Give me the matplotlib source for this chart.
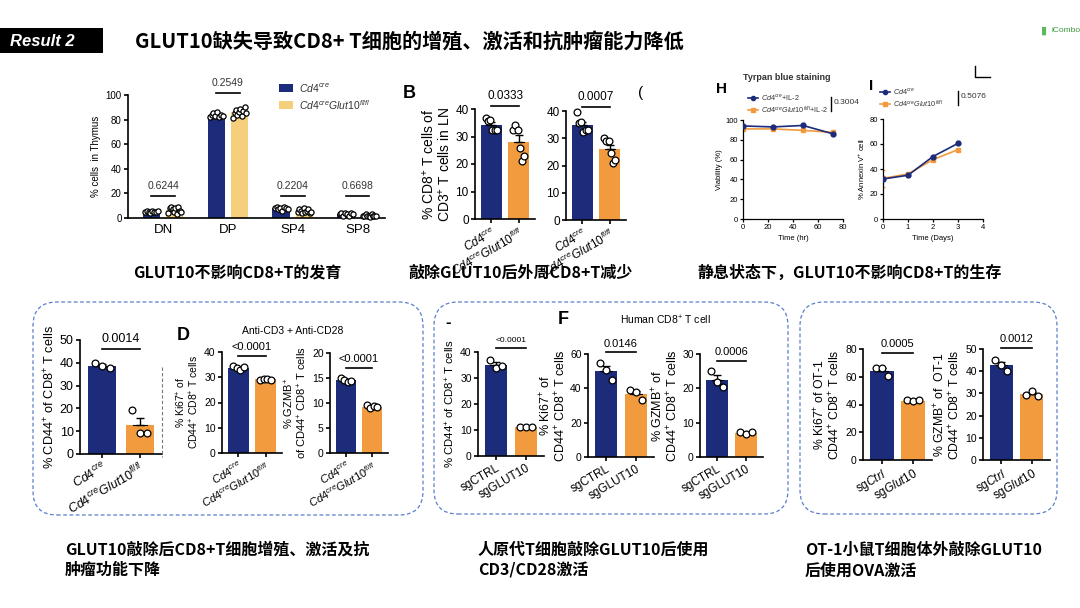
import numpy as np
import matplotlib
matplotlib.use('Agg')
import matplotlib.pyplot as plt
from matplotlib.patches import Rectangle, FancyBboxPatch
from matplotlib.lines import Line2D
from matplotlib.transforms import IdentityTransform

plt.rcParams['font.family'] = ['Liberation Sans', 'Noto Sans CJK SC', 'DejaVu Sans']
plt.rcParams['mathtext.fontset'] = 'custom'
plt.rcParams['mathtext.rm'] = 'Liberation Sans'
plt.rcParams['mathtext.it'] = 'Liberation Sans:italic'
plt.rcParams['mathtext.bf'] = 'Liberation Sans:bold'

# ---------------- data ----------------
thymus_cats = ['DN', 'DP', 'SP4', 'SP8']
thymus_wt = [[5, 6, 5, 4, 6, 5, 5, 6],
             [82, 84, 85, 83, 86, 82, 84, 83],
             [8, 9, 7, 8, 6, 9, 8, 7],
             [3, 4, 2, 4, 3, 2, 4, 3]]
thymus_ko = [[4, 8, 9, 7, 5, 8, 3, 9, 6, 5],
             [81, 85, 88, 84, 86, 89, 83, 87, 90, 85],
             [5, 7, 6, 4, 8, 5, 6, 7, 4, 5],
             [2, 2, 3, 2, 2, 1, 3, 2, 2, 2]]
thymus_p = ['0.6244', '0.2549', '0.2204', '0.6698']

ln1_wt = [36.7, 35.5, 36, 32.5, 32.5, 32.5]
ln1_ko = [32.5, 34.3, 32.5, 25.8, 21, 22.8]
ln2_wt = [39.5, 35.5, 36, 32.4, 33, 33]
ln2_ko = [30, 29, 29, 24.5, 21, 22]
ln_p = ['0.0333', '0.0007']

h_time = [0, 24, 48, 72]
h_wt = [94, 93, 94.5, 86]
h_ko = [91, 91, 89.5, 87.5]
h_p = '0.3004'

i_days = [0, 1, 2, 3]
i_wt = [32, 35, 50, 60.5]
i_ko = [32.5, 36, 47.5, 55.5]
i_ko_err = [6.5, 0.8, 1.0, 0.8]
i_p = '0.5076'

cd44_wt = [40, 38.6, 37.6]
cd44_ko = [19.4, 9.2, 9.2]
ki67_wt = [34.5, 33.5, 33, 34]
ki67_ko = [29, 29.2, 29.5, 29]
gzmb_wt = [15, 14.6, 14.2, 14.4]
gzmb_ko = [9.6, 9, 9.4, 9.2]
mouse_p = ['0.0014', '<0.0001', '<0.0001']

hu_cd44_ctrl = [37, 33.8, 34.5]
hu_cd44_ko = [11, 11, 11.2]
hu_ki67_ctrl = [54.5, 50.7, 44.8]
hu_ki67_ko = [39, 38, 33]
hu_gzmb_ctrl = [25, 21.8, 20.5]
hu_gzmb_ko = [7.4, 6.8, 7.2]
human_p = ['<0.0001', '0.0146', '0.0006']

ot_ki67_ctrl = [66.3, 66.3, 60.2]
ot_ki67_ko = [43, 42.5, 43]
ot_gzmb_ctrl = [45.2, 42.9, 40.2]
ot_gzmb_ko = [29.4, 31.3, 28.9]
ot_p = ['0.0005', '0.0012']

mouse_labels = [r'$\mathit{Cd4^{cre}}$', r'$\mathit{Cd4^{cre}Glut10^{fl/fl}}$']
human_labels = ['sgCTRL', 'sgGLUT10']
ot_labels = [r'sg$\mathit{Ctrl}$', r'sg$\mathit{Glut10}$']

# ---------------- style ----------------
W, H = 1080, 608
BLUE = '#1c2b7a'
ORANGE = '#f29b3e'
YELLOW = '#f6cf7c'
BOXC = '#5a7fcc'
CJK = ['Noto Sans CJK SC', 'DejaVu Sans']

fig = plt.figure(figsize=(W / 100, H / 100), dpi=100)


def px_axes(l, t, r, b):
    return fig.add_axes([l / W, 1 - b / H, (r - l) / W, (b - t) / H])


def ftext(x, y, s, **kw):
    fig.text(x / W, 1 - y / H, s, **kw)


def style(ax, fs, lw=1.0, length=3):
    for s in ['top', 'right']:
        ax.spines[s].set_visible(False)
    for s in ['left', 'bottom']:
        ax.spines[s].set_linewidth(lw)
    ax.tick_params(labelsize=fs, width=lw, length=length, pad=1.5)


def dots(ax, x, vals, spread, size):
    off = np.linspace(-spread, spread, len(vals))
    ax.scatter(x + off, vals, s=size, facecolor='white', edgecolor='black',
               linewidth=0.9, zorder=4, clip_on=False)


def bar_with_dots(ax, x, vals, color, width, spread, size, cap=3):
    m = np.mean(vals)
    se = np.std(vals, ddof=1) / np.sqrt(len(vals))
    ax.bar(x, m, width, color=color, zorder=2)
    ax.errorbar(x, m, yerr=[[0], [se]], color='black', capsize=cap, lw=1,
                capthick=1, zorder=3)
    ax.plot([x - width * 0.25, x + width * 0.25], [m, m], color='black', lw=0.8, zorder=3)
    dots(ax, x, vals, spread, size)


def two_bars(ax, wt, ko, ymax, step, p, p_y, labels, fs, pfs, ylabel, ylfs, xfs=None, lpad=2):
    bar_with_dots(ax, 0, wt, BLUE, 0.75, 0.2, 24)
    bar_with_dots(ax, 1, ko, ORANGE, 0.75, 0.2, 24)
    ax.set_xlim(-0.6, 1.6)
    ax.set_ylim(0, ymax)
    ax.set_yticks(np.arange(0, ymax + step / 2, step))
    ax.set_xticks([0, 1])
    ax.set_xticklabels(labels, rotation=30, ha='right', rotation_mode='anchor')
    style(ax, fs, lw=1.2)
    if xfs:
        ax.tick_params(axis='x', labelsize=xfs)
    ax.plot([0, 1], [p_y, p_y], color='black', lw=1.2, clip_on=False)
    ax.text(0.5, p_y + ymax * 0.035, p, ha='center', va='bottom', fontsize=pfs)
    ax.set_ylabel(ylabel, fontsize=ylfs, labelpad=lpad, linespacing=1.0)


# ---------------- header ----------------
fig.add_artist(Rectangle((0, 1 - 53 / H), 103 / W, 25 / H, transform=fig.transFigure,
                         facecolor='black', edgecolor='none'))
ftext(10, 41, 'Result 2', color='white', fontsize=12, fontweight='bold',
      fontstyle='italic', va='center')
ftext(135, 41, 'GLUT10缺失导致CD8+ T细胞的增殖、激活和抗肿瘤能力降低', fontsize=14.5,
      fontweight='bold', family=CJK, va='center')
ftext(1052, 31, 'iCombo', fontsize=6, color='#3a9a3a', va='center')
ftext(1041, 31, '▮', fontsize=8, color='#5cb85c', va='center', family=['DejaVu Sans'])

# ---------------- panel A: thymus ----------------
axA = px_axes(128, 95, 385, 218)
xs = np.arange(len(thymus_cats))
for i in range(len(thymus_cats)):
    bar_with_dots(axA, xs[i] - 0.18, thymus_wt[i], BLUE, 0.27, 0.1, 14, cap=0)
    bar_with_dots(axA, xs[i] + 0.18, thymus_ko[i], YELLOW, 0.27, 0.1, 14, cap=0)
    py = 101.5 if i == 1 else 18
    axA.plot([xs[i] - 0.18, xs[i] + 0.18], [py, py], color='black', lw=1.2, clip_on=False)
    axA.text(xs[i], py + 4, thymus_p[i], ha='center', va='bottom', fontsize=7.5, color='#333333')
axA.set_xlim(-0.54, 3.42)
axA.set_ylim(0, 100)
axA.set_yticks(np.arange(0, 101, 20))
axA.set_xticks(xs)
axA.set_xticklabels(thymus_cats)
style(axA, 7, lw=1.2)
axA.tick_params(axis='x', labelsize=9.5, length=0, pad=4)
axA.set_ylabel('% cells  in Thymus', fontsize=7, labelpad=3)
for k, (c, lab) in enumerate([(BLUE, r'$\mathit{Cd4^{cre}}$'),
                              (YELLOW, r'$\mathit{Cd4^{cre}Glut10^{fl/fl}}$')]):
    y = 88 + 17 * k
    fig.add_artist(Rectangle((279 / W, 1 - (y + 4) / H), 14 / W, 8 / H,
                             transform=fig.transFigure, facecolor=c, edgecolor='none'))
    ftext(299, y, lab, fontsize=7.5, va='center', color='#333333')

# ---------------- panel B: LN ----------------
axB1 = px_axes(475, 109, 535, 219)
two_bars(axB1, ln1_wt, ln1_ko, 40, 10, ln_p[0], 41, mouse_labels, 8.5, 8.5,
         '% CD8$^{+}$ T cells of\nCD3$^{+}$ T cells in LN', 10)
axB2 = px_axes(566, 111, 626, 220)
two_bars(axB2, ln2_wt, ln2_ko, 40, 10, ln_p[1], 41.5, mouse_labels, 8.5, 8.5, '', 10)
ftext(403, 93, 'B', fontsize=13, fontweight='bold', va='center')
ftext(638, 93, '(', fontsize=11, va='center')

# ---------------- panel H ----------------
axH = px_axes(743, 120, 843, 219)
axH.plot(h_time, h_wt, color=BLUE, marker='o', ms=3.5, lw=1.2, zorder=3)
axH.plot(h_time, h_ko, color=ORANGE, marker='s', ms=3.5, lw=1.2, zorder=2)
axH.set_xlim(0, 80)
axH.set_ylim(0, 100)
axH.set_xticks(np.arange(0, 81, 20))
axH.set_yticks(np.arange(0, 101, 20))
style(axH, 5.5, lw=0.9, length=2)
axH.set_xlabel('Time (hr)', fontsize=5.5, labelpad=3)
axH.set_ylabel('Viability (%)', fontsize=5.5, labelpad=2)
ftext(743, 77, 'Tyrpan blue staining', fontsize=6.5, fontweight='bold', va='center', color='#333333')
ftext(716, 89, 'H', fontsize=11, fontweight='bold', va='center')

# ---------------- panel I ----------------
axI = px_axes(883, 119, 983, 219)
axI.errorbar(i_days, i_ko, yerr=i_ko_err, color=ORANGE, marker='s', ms=3.5, lw=1.2,
             capsize=1.5, zorder=2)
axI.plot(i_days, i_wt, color=BLUE, marker='o', ms=3.5, lw=1.2, zorder=3)
axI.set_xlim(0, 4)
axI.set_ylim(0, 80)
axI.set_xticks(np.arange(0, 5, 1))
axI.set_yticks(np.arange(0, 81, 20))
style(axI, 5.5, lw=0.9, length=2)
axI.set_xlabel('Time (Days)', fontsize=5.5, labelpad=3)
axI.set_ylabel('% Annexin V$^{+}$ cell', fontsize=5.5, labelpad=2)
ftext(869, 86, 'I', fontsize=11, fontweight='bold', va='center')

# legends for H and I
for (x0, ytop, labs, ptext, px) in [
        (748, 98, [r'$\mathit{Cd4^{cre}}$+IL-2', r'$\mathit{Cd4^{cre}Glut10^{fl/fl}}$+IL-2'], h_p, 831),
        (880, 92, [r'$\mathit{Cd4^{cre}}$', r'$\mathit{Cd4^{cre}Glut10^{fl/fl}}$'], i_p, 958)]:
    for k, (c, m) in enumerate([(BLUE, 'o'), (ORANGE, 's')]):
        y = ytop + 12 * k
        fig.add_artist(Line2D([x0 / W, (x0 + 5) / W, (x0 + 10) / W], [1 - y / H] * 3,
                              transform=fig.transFigure, color=c, lw=1.2,
                              marker=m, ms=3, markevery=[1]))
        ftext(x0 + 13, y, labs[k], fontsize=5.2, va='center', color='#333333')
    yb = ytop + 6
    fig.add_artist(Line2D([px / W, px / W], [1 - (yb - 7) / H, 1 - (yb + 7) / H],
                          transform=fig.transFigure, color='black', lw=1))
    ftext(px + 3, yb - 1, ptext, fontsize=6, va='center', color='#333333')

# corner mark
fig.add_artist(Line2D([975 / W, 975 / W, 990 / W], [1 - 66 / H, 1 - 77 / H, 1 - 77 / H],
                      transform=fig.transFigure, color='black', lw=1))

# ---------------- captions (top row) ----------------
ftext(133, 273, 'GLUT10不影响CD8+T的发育', fontsize=11.5, fontweight='bold', family=CJK, va='center')
ftext(408, 273, '敲除GLUT10后外周CD8+T减少', fontsize=11.5, fontweight='bold', family=CJK, va='center')
ftext(697, 273, '静息状态下，GLUT10不影响CD8+T的生存', fontsize=11.5, fontweight='bold', family=CJK, va='center')

# ---------------- dashed boxes ----------------
for (l, t, r, b) in [(33, 302, 423, 515), (434, 302, 788, 514), (800, 302, 1057, 514)]:
    fig.add_artist(FancyBboxPatch((l, H - b), r - l, b - t,
                                  boxstyle='round,pad=0,rounding_size=24',
                                  transform=IdentityTransform(), facecolor='none',
                                  edgecolor=BOXC, lw=0.9, linestyle=(0, (3, 2))))
fig.add_artist(Line2D([162 / W, 162 / W], [1 - 367 / H, 1 - 457 / H], transform=fig.transFigure,
                      color='#777777', lw=0.8, linestyle=(0, (3, 2))))

# ---------------- box 1: mouse C / D ----------------
axC = px_axes(80, 340, 162, 454)
two_bars(axC, cd44_wt, cd44_ko, 50, 10, mouse_p[0], 46, mouse_labels, 9, 9,
         '% CD44$^{+}$ of CD8$^{+}$ T cells', 9.2)
axD1 = px_axes(222, 352, 282, 453)
two_bars(axD1, ki67_wt, ki67_ko, 40, 10, mouse_p[1], 38.5, mouse_labels, 7.5, 8,
         '% Ki67$^{+}$ of\nCD44$^{+}$ CD8$^{+}$ T cells', 7.5, xfs=8)
axD2 = px_axes(330, 353, 388, 453)
two_bars(axD2, gzmb_wt, gzmb_ko, 20, 5, mouse_p[2], 17, mouse_labels, 7.5, 8,
         '% GZMB$^{+}$\nof CD44$^{+}$ CD8$^{+}$ T cells', 8, xfs=8)
ftext(177, 335, 'D', fontsize=13, fontweight='bold', va='center')
ftext(293, 331, 'Anti-CD3 + Anti-CD28', fontsize=7.5, ha='center', va='center')

# ---------------- box 2: human E / F ----------------
axE = px_axes(478, 352, 544, 456)
two_bars(axE, hu_cd44_ctrl, hu_cd44_ko, 40, 10, human_p[0], 41.5, human_labels, 7.5, 6,
         '% CD44$^{+}$ of CD8$^{+}$ T cells', 8.2, xfs=8.5)
axF1 = px_axes(588, 354, 654, 457)
two_bars(axF1, hu_ki67_ctrl, hu_ki67_ko, 60, 20, human_p[1], 61, human_labels, 7.5, 8,
         '% Ki67$^{+}$ of\nCD44$^{+}$ CD8$^{+}$ T cells', 9, xfs=8.5, lpad=1)
axF2 = px_axes(700, 354, 763, 457)
two_bars(axF2, hu_gzmb_ctrl, hu_gzmb_ko, 30, 10, human_p[2], 28, human_labels, 7.5, 8,
         '% GZMB$^{+}$ of\nCD44$^{+}$ CD8$^{+}$ T cells', 9, xfs=8.5, lpad=1)
ftext(445, 322, '-', fontsize=12, fontweight='bold', va='center')
ftext(558, 320, 'F', fontsize=13, fontweight='bold', va='center')
ftext(665, 320, 'Human CD8$^{+}$ T cell', fontsize=7.5, ha='center', va='center')

# ---------------- box 3: OT-1 ----------------
axG1 = px_axes(863, 349, 932, 460)
two_bars(axG1, ot_ki67_ctrl, ot_ki67_ko, 80, 20, ot_p[0], 77, ot_labels, 7.5, 8,
         '% Ki67$^{+}$ of OT-1\nCD44$^{+}$ CD8$^{+}$ T cells', 8.8, xfs=8.5)
axG2 = px_axes(983, 349, 1050, 460)
two_bars(axG2, ot_gzmb_ctrl, ot_gzmb_ko, 50, 10, ot_p[1], 50.5, ot_labels, 7.5, 8,
         '% GZMB$^{+}$ of  OT-1\nCD44$^{+}$ CD8$^{+}$ T cells', 8.8, xfs=8.5)

# ---------------- captions (bottom row) ----------------
ftext(65, 560, 'GLUT10敲除后CD8+T细胞增殖、激活及抗\n肿瘤功能下降', fontsize=11.5,
      fontweight='bold', family=CJK, va='center', linespacing=1.35)
ftext(478, 560, '人原代T细胞敲除GLUT10后使用\nCD3/CD28激活', fontsize=11.5,
      fontweight='bold', family=CJK, va='center', linespacing=1.35)
ftext(805, 560, 'OT-1小鼠T细胞体外敲除GLUT10\n后使用OVA激活', fontsize=11.5,
      fontweight='bold', family=CJK, va='center', linespacing=1.35)

fig.savefig('out.png', dpi=100)
